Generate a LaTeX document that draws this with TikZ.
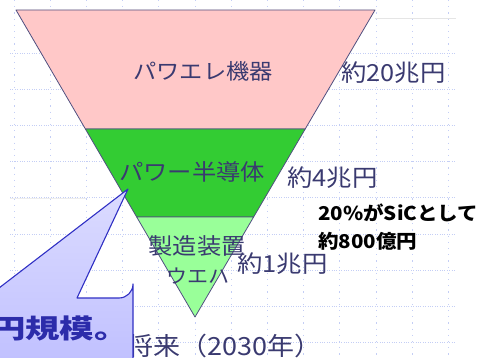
\documentclass[tikz,border=0pt]{standalone}
\usepackage{fontspec}
\newfontfamily\jp[FakeStretch=1.08]{Noto Sans CJK JP}
\newfontfamily\jpw[FakeStretch=1.3]{Noto Sans CJK JP}
\definecolor{txt}{RGB}{58,58,112}
\definecolor{edge}{RGB}{80,80,128}
\definecolor{pinkl}{RGB}{255,200,200}
\definecolor{greend}{RGB}{51,204,51}
\definecolor{greenl}{RGB}{153,255,153}
\definecolor{gridc}{RGB}{196,206,245}
\definecolor{callb}{RGB}{48,48,196}
\definecolor{calltxt}{RGB}{44,44,170}
\tikzset{
  lbl/.style={font=\jp\fontsize{23.5}{25}\selectfont, text=txt, inner sep=0pt},
  boldlbl/.style={font=\jp\bfseries\fontsize{19}{21}\selectfont, text=black, inner sep=0pt, anchor=west},
  hgrid/.style={gridc, line width=0.8pt, dash pattern=on 1pt off 1.4pt},
  vgrid/.style={gridc, line width=0.8pt, dash pattern=on 1.2pt off 5pt},
  layer/.style={draw=edge, line width=0.8pt, line join=round}
}
\begin{document}
\begin{tikzpicture}[x=1pt,y=-1pt]
\useasboundingbox (0,0) rectangle (487,358);
% grid
\foreach \k in {0,...,8}{
  \draw[hgrid] (10,{53+36.2*\k}) -- (456,{53+36.2*\k});
}
\foreach \k in {0,...,12}{
  \draw[vgrid] ({14+36.2*\k},0) -- ({14+36.2*\k},358);
}
\draw[black!10, line width=0.8pt] (375,18) -- (456,18);
\draw[black!7, line width=0.8pt] (10,198) -- (86,198);
% inverted triangle layers
\filldraw[layer, fill=pinkl] (16,10) -- (375,10) -- (305.2,129) -- (85.4,129) -- cycle;
\filldraw[layer, fill=greend] (85.4,129) -- (305.2,129) -- (253.6,217) -- (136.7,217) -- cycle;
\filldraw[layer, fill=greenl] (136.7,217) -- (253.6,217) -- (195,317) -- cycle;
% labels
\node[lbl, font=\jp\fontsize{21.5}{23}\selectfont] (pe) at (203,71) {パワエレ機器};
\node[lbl, anchor=west] (v20) at (341,73) {約20兆円};
\node[lbl, font=\jp\fontsize{22.5}{24}\selectfont] (ps) at (192,172) {パワー半導体};
\node[lbl, anchor=west] (v4) at (287,178) {約4兆円};
\node[boldlbl] (sic) at (318,213) {20\%がSiCとして};
\node[boldlbl] (v800) at (318,241) {約800億円};
\node[lbl, font=\jp\fontsize{22.5}{24}\selectfont] (eq) at (197,246) {製造装置};
\node[lbl, font=\jp\fontsize{19.5}{21}\selectfont] (wf) at (198,276) {ウエハ};
\node[lbl, anchor=west] (v1) at (237,264) {約1兆円};
\node[lbl, anchor=west, font=\jp\fontsize{25}{27}\selectfont] (fut) at (126,346) {将来（2030年）};
% callout
\shade[top color=blue!14, bottom color=blue!28, draw=callb, line width=1.1pt, line join=round]
  (-200,298) -- (-14,298) -- (128,189) -- (77,298) -- (119,298)
  arc[start angle=90, end angle=0, radius=14] -- (133,420) -- (-200,420) -- cycle;
\node[font=\jpw\bfseries\fontsize{26.5}{28}\selectfont, text=calltxt, anchor=east, inner sep=0pt] (cl) at (129,328) {円規模。};
\end{tikzpicture}
\end{document}
